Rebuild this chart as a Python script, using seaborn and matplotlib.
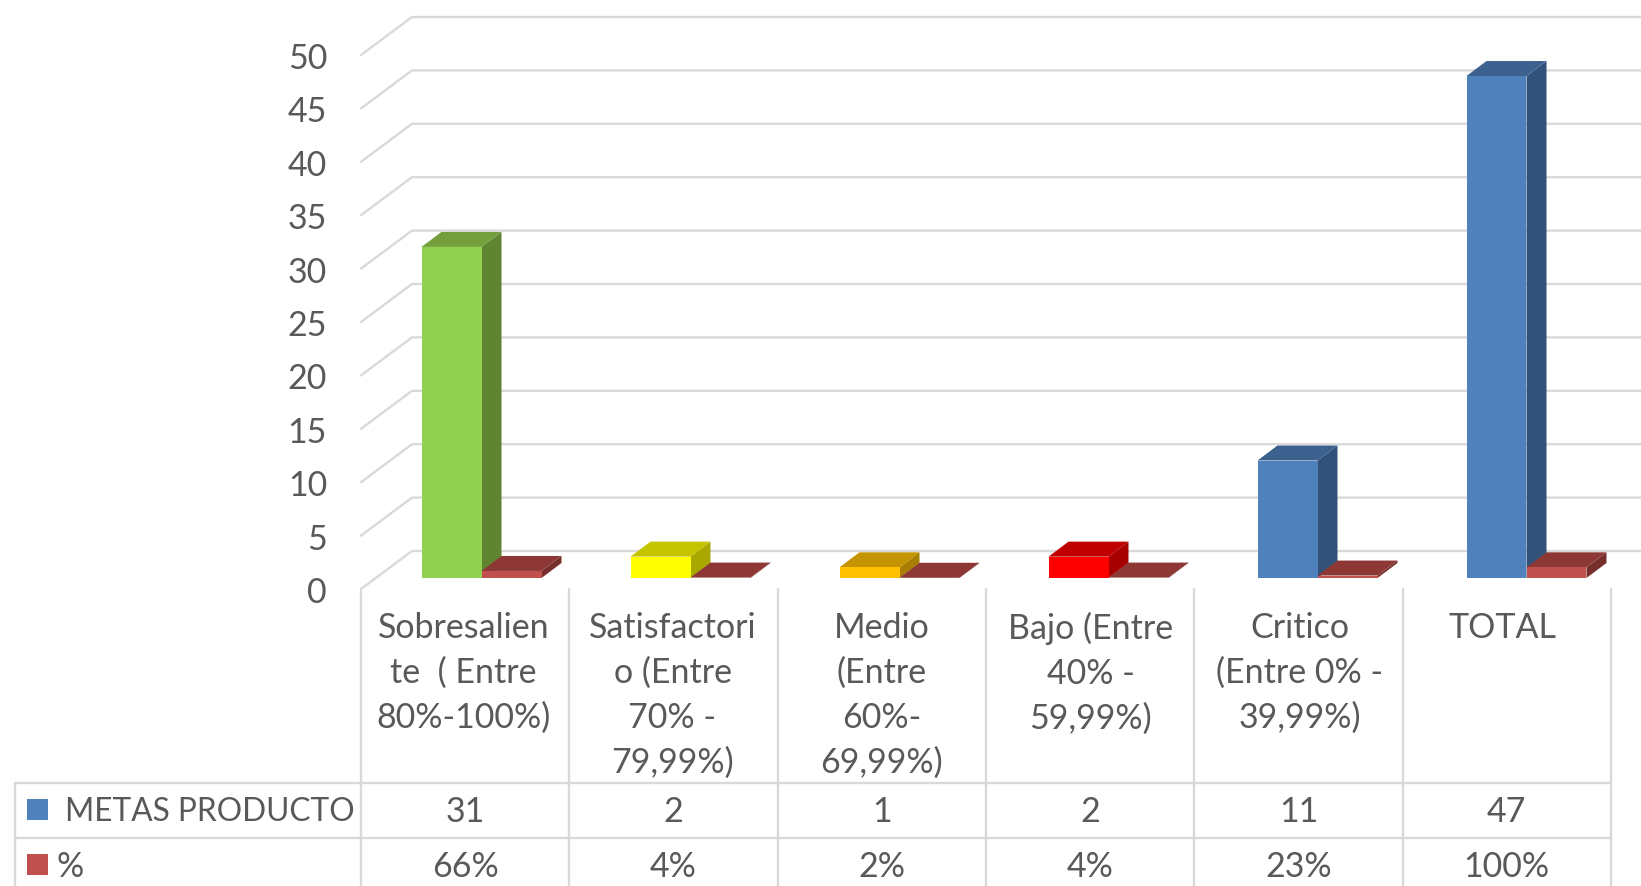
import matplotlib
matplotlib.use('Agg')
import matplotlib.pyplot as plt
import matplotlib.transforms as mtrans
from matplotlib.patches import Polygon, Rectangle
from matplotlib.lines import Line2D
import seaborn as sns
import pandas as pd

categories = ['Sobresalien\nte  ( Entre\n80%-100%)', 'Satisfactori\no (Entre\n70% -\n79,99%)',
              'Medio\n(Entre\n60%-\n69,99%)', 'Bajo (Entre\n40% -\n59,99%)',
              'Critico\n(Entre 0% -\n39,99%)', 'TOTAL']
metas = [31, 2, 1, 2, 11, 47]
pct = [0.66, 0.04, 0.02, 0.04, 0.23, 1.0]
pct_labels = ['66%', '4%', '2%', '4%', '23%', '100%']
y_ticks = [0, 5, 10, 15, 20, 25, 30, 35, 40, 45, 50]
series_names = ['METAS PRODUCTO', '%']

# front, side, top colours
metas_colors = [('#92D050', '#5F8532', '#73A03C'), ('#FFFF00', '#A8A800', '#C4C400'),
                ('#FFC000', '#A87F00', '#C49500'), ('#FF0000', '#A80000', '#C00000'),
                ('#4F81BD', '#32527A', '#3C618F'), ('#4F81BD', '#32527A', '#3C618F')]
pct_color = ('#C0504D', '#772F2D', '#8E3836')
text_color = '#595959'
grid_color = '#D9D9D9'

W, H = 1641, 886
CAT_PX = 209.0   # pixels per category
COL_PX = 208.3   # table columns are slightly narrower
UNIT_PX = 10.68  # pixels per y unit
BASE_Y = 578.0

sns.set_style('white')
plt.rcParams['font.family'] = ['Lato', 'DejaVu Sans']

fig = plt.figure(figsize=(W / 100, H / 100), dpi=100)
ax = fig.add_axes([377 / W, (H - BASE_Y) / H, CAT_PX * 6 / W, UNIT_PX * 50 / H])

df = pd.DataFrame({
    'cat': categories * 2,
    'value': metas + pct,
    'serie': [series_names[0]] * 6 + [series_names[1]] * 6,
})
sns.barplot(data=df, x='cat', y='value', hue='serie', ax=ax, width=120 / CAT_PX, gap=0,
            errorbar=None, legend=False, palette=['#4F81BD', '#C0504D'], linewidth=0)


def dx(p):
    return p / CAT_PX


def dy(p):
    return p / UNIT_PX


# 3D faces of the bars
def extrude(bar, colors, z):
    x0, x1 = bar.get_x(), bar.get_x() + bar.get_width()
    h = bar.get_height()
    ox, oy = dx(20), dy(15)
    bar.set_facecolor(colors[0])
    bar.set_zorder(z + 1)
    side = [(x1, 0), (x1 + ox, oy), (x1 + ox, h + oy), (x1, h)]
    top = [(x0, h), (x0 + ox, h + oy), (x1 + ox, h + oy), (x1, h)]
    ax.add_patch(Polygon(side, facecolor=colors[1], edgecolor='none', zorder=z, clip_on=False))
    ax.add_patch(Polygon(top, facecolor=colors[2], edgecolor='none', zorder=z, clip_on=False))


for bar, c in zip(ax.containers[0], metas_colors):
    extrude(bar, c, 3)
for bar in ax.containers[1]:
    extrude(bar, pct_color, 5)

# walls
x_front = -0.5 - dx(16)
x_back = -0.5 + dx(35)
x_end = 5.5 + dx(20)
for t in y_ticks:
    ax.plot([x_front, x_back, x_end], [t - dy(11), t + dy(27), t + dy(27)],
            color=grid_color, lw=1.7, zorder=0, clip_on=False)

ax.set_xlim(-0.5, 5.5)
ax.set_ylim(0, 50)
ax.set_yticks(y_ticks)
ax.set_xlabel('')
ax.set_ylabel('')
ax.tick_params(axis='y', length=0, pad=36, labelsize=24.5, labelcolor=text_color)
ax.tick_params(axis='x', length=0, pad=24.2, labelsize=24.5, labelcolor=text_color)
for lab in ax.get_yticklabels():
    lab.set_transform(lab.get_transform() + mtrans.ScaledTranslation(0, -12 / 100, fig.dpi_scale_trans))
for i, lab in enumerate(ax.get_xticklabels()):
    shift = -24 if i == 5 else -18
    lab.set_transform(lab.get_transform() + mtrans.ScaledTranslation(shift / 100, 0, fig.dpi_scale_trans))
    lab.set_linespacing(1.5)
sns.despine(ax=ax, left=True, bottom=True)
ax.patch.set_alpha(0)

# data table under the chart, in pixel coordinates
px = mtrans.Affine2D().scale(1 / W, -1 / H).translate(0, 1) + fig.transFigure
col_x = [361 + COL_PX * i for i in range(7)]
for x in col_x:
    fig.add_artist(Line2D([x, x], [589, H], color=grid_color, lw=1.7, transform=px))
fig.add_artist(Line2D([15, 15], [783, H], color=grid_color, lw=1.7, transform=px))
for y in [783, 838]:
    fig.add_artist(Line2D([15, col_x[-1]], [y, y], color=grid_color, lw=1.7, transform=px))

fig.add_artist(Rectangle((27, 799), 21, 21, facecolor='#4F81BD', edgecolor='none', transform=px))
fig.add_artist(Rectangle((27, 854), 21, 21, facecolor='#C0504D', edgecolor='none', transform=px))
fig.text(65, 812, series_names[0], transform=px, fontsize=22.8, color=text_color, ha='left', va='center')
fig.text(56, 867, series_names[1], transform=px, fontsize=24.5, color=text_color, ha='left', va='center')
for i in range(6):
    cx = col_x[i] + COL_PX / 2
    fig.text(cx, 812, str(metas[i]), transform=px, fontsize=24.5, color=text_color, ha='center', va='center')
    fig.text(cx, 867, pct_labels[i], transform=px, fontsize=24.5, color=text_color, ha='center', va='center')

plt.savefig('out.png', dpi=100)
